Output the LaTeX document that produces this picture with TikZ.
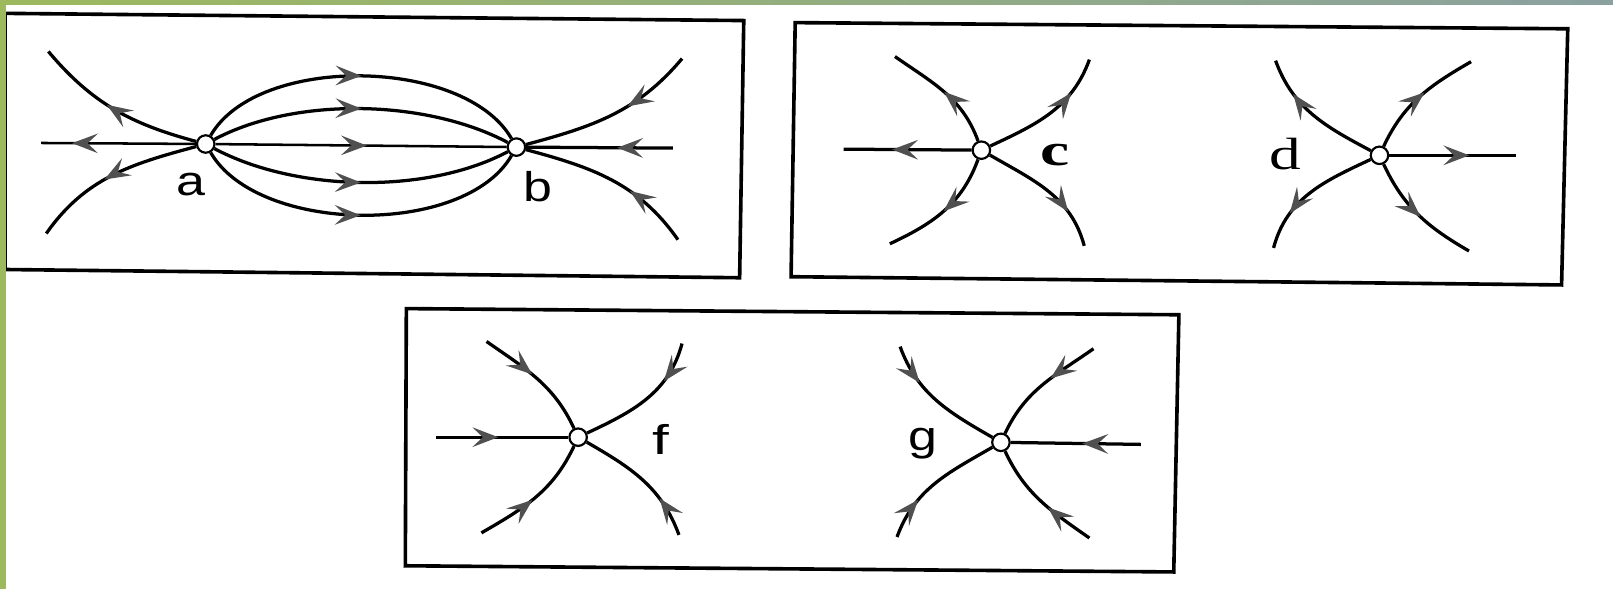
\documentclass[tikz,border=0pt]{standalone}
\usepackage{fontspec}
\setmainfont{Liberation Serif}
\setsansfont{Liberation Sans}
\usetikzlibrary{arrows.meta,decorations.markings}
\definecolor{strip}{HTML}{9DB95E}
\definecolor{stripmid}{HTML}{6A977C}
\definecolor{stripend}{HTML}{8AA1A0}
\definecolor{tipgray}{HTML}{505050}
\newcommand{\widelbl}[2]{\scalebox{#1}[1]{#2}}
\tikzset{line width=1.8pt,
  panel/.style={draw,line width=2pt,line join=miter},
  pt/.style={circle,draw,fill=white,line width=1.2pt,minimum size=.34cm,inner sep=0pt},
  orbit/.style={draw,line width=1.8pt},
  flow/.style={postaction={decorate,decoration={markings,
    mark=at position #1 with {\arrow{Stealth[length=5mm,width=3.8mm,inset=2mm,color=tipgray]}}}}},
  flow/.default=.5,
  lbl/.style={font=\sffamily\fontsize{23}{26}\selectfont,inner sep=0pt},
  slbl/.style={font=\rmfamily\fontsize{25}{28}\selectfont,inner sep=0pt}}

\begin{document}
\begin{tikzpicture}[x=.02cm,y=.02cm]
\useasboundingbox (0,0) rectangle (1568,573);
\fill[white] (0,0) rectangle (1568,573);
% panels
\draw[panel] (5,560)--(723,553)--(719,303)--(5,311)--cycle;
\draw[panel] (773,551)--(1524,545)--(1518,296)--(769,304)--cycle;
\draw[panel] (395,273)--(1146,267)--(1141,17)--(394,23)--cycle;
% a and b
\node[pt] (a) at (200,433) {};
\node[pt] (b) at (502,430) {};
\coordinate (al) at (40,434);\coordinate (br) at (654,429);
\coordinate (a1) at (47,523);\coordinate (a2) at (45,346);
\coordinate (b1) at (663,516);\coordinate (b2) at (659,340);
\draw[orbit,line width=1.4pt,flow=.8] (a)--(al);
\draw[orbit,line width=1.4pt,flow=.52] (a)--(b);
\draw[orbit,flow=.38] (br)--(b);
\draw[orbit,flow=.55] (a) to[out=165,in=-50] (a1);
\draw[orbit,flow=.55] (a) to[out=195,in=55] (a2);
\draw[orbit,flow=.4] (b1) to[out=230,in=15] (b);
\draw[orbit,flow=.38] (b2) to[out=125,in=-15] (b);
\draw[orbit,flow] (a) to[out=60,in=120,looseness=.8] (b);
\draw[orbit,flow] (a) to[out=28,in=152,looseness=.8] (b);
\draw[orbit,flow] (a) to[out=-28,in=-152,looseness=.8] (b);
\draw[orbit,flow] (a) to[out=-60,in=-120,looseness=.8] (b);
\node[lbl] (la) at (186,394) {\widelbl{1.25}{a}};
\node[lbl] (lb) at (523,392) {\widelbl{1.25}{b}};
% c
\node[pt] (c) at (954,427) {};
\coordinate (c1) at (870,518);\coordinate (c2) at (1059,515);
\coordinate (c3) at (865,336);\coordinate (c4) at (1054,334);
\coordinate (c5) at (820,428);
\draw[orbit,flow=.62] (c)--(c5);
\draw[orbit,flow] (c) to[out=110,in=-35] (c1);
\draw[orbit,flow=.72] (c) to[out=25,in=-110] (c2);
\draw[orbit,flow] (c) to[out=250,in=25] (c3);
\draw[orbit,flow=.72] (c) to[out=-30,in=105] (c4);
\node[slbl] (lc) at (1026,422) {\widelbl{1.45}{\bfseries c}};
% d
\node[pt] (d) at (1341,422) {};
\coordinate (d1) at (1240,514);\coordinate (d2) at (1430,513);
\coordinate (d3) at (1238,332);\coordinate (d4) at (1428,329);
\coordinate (d5) at (1474,422);
\draw[orbit,flow=.63] (d)--(d5);
\draw[orbit,flow=.72] (d) to[out=152,in=-70] (d1);
\draw[orbit,flow=.55] (d) to[out=65,in=210] (d2);
\draw[orbit,flow=.72] (d) to[out=205,in=75] (d3);
\draw[orbit,flow=.52] (d) to[out=-65,in=150] (d4);
\node[slbl] (ld) at (1249,423) {\widelbl{1.4}{d}};
% f
\node[pt] (f) at (562,148) {};
\coordinate (f1) at (473,241);\coordinate (f2) at (663,239);
\coordinate (f3) at (468,55);\coordinate (f4) at (660,53);
\coordinate (f5) at (424,148);
\draw[orbit,flow=.47] (f5)--(f);
\draw[orbit,flow=.45] (f1) to[out=-35,in=115] (f);
\draw[orbit,flow=.31] (f2) to[out=255,in=25] (f);
\draw[orbit,flow=.47] (f3) to[out=30,in=-115] (f);
\draw[orbit,flow=.31] (f4) to[out=110,in=-30] (f);
\node[lbl] (lf) at (642,146) {\widelbl{1.45}{f}};
% g
\node[pt] (g) at (973,143) {};
\coordinate (g1) at (875,236);\coordinate (g2) at (1063,234);
\coordinate (g3) at (872,51);\coordinate (g4) at (1059,50);
\coordinate (g5) at (1109,141);
\draw[orbit,flow=.45] (g5)--(g);
\draw[orbit,flow=.31] (g1) to[out=-70,in=150] (g);
\draw[orbit,flow=.42] (g2) to[out=215,in=65] (g);
\draw[orbit,flow=.32] (g3) to[out=70,in=210] (g);
\draw[orbit,flow=.42] (g4) to[out=145,in=-65] (g);
\node[lbl] (lg) at (897,142) {\widelbl{1.25}{g}};
% frame strips
\fill[strip] (0,0) rectangle (5.5,573);
\shade[left color=strip,middle color=stripmid,right color=stripend] (0,569) rectangle (1568,573);
\end{tikzpicture}
\end{document}
